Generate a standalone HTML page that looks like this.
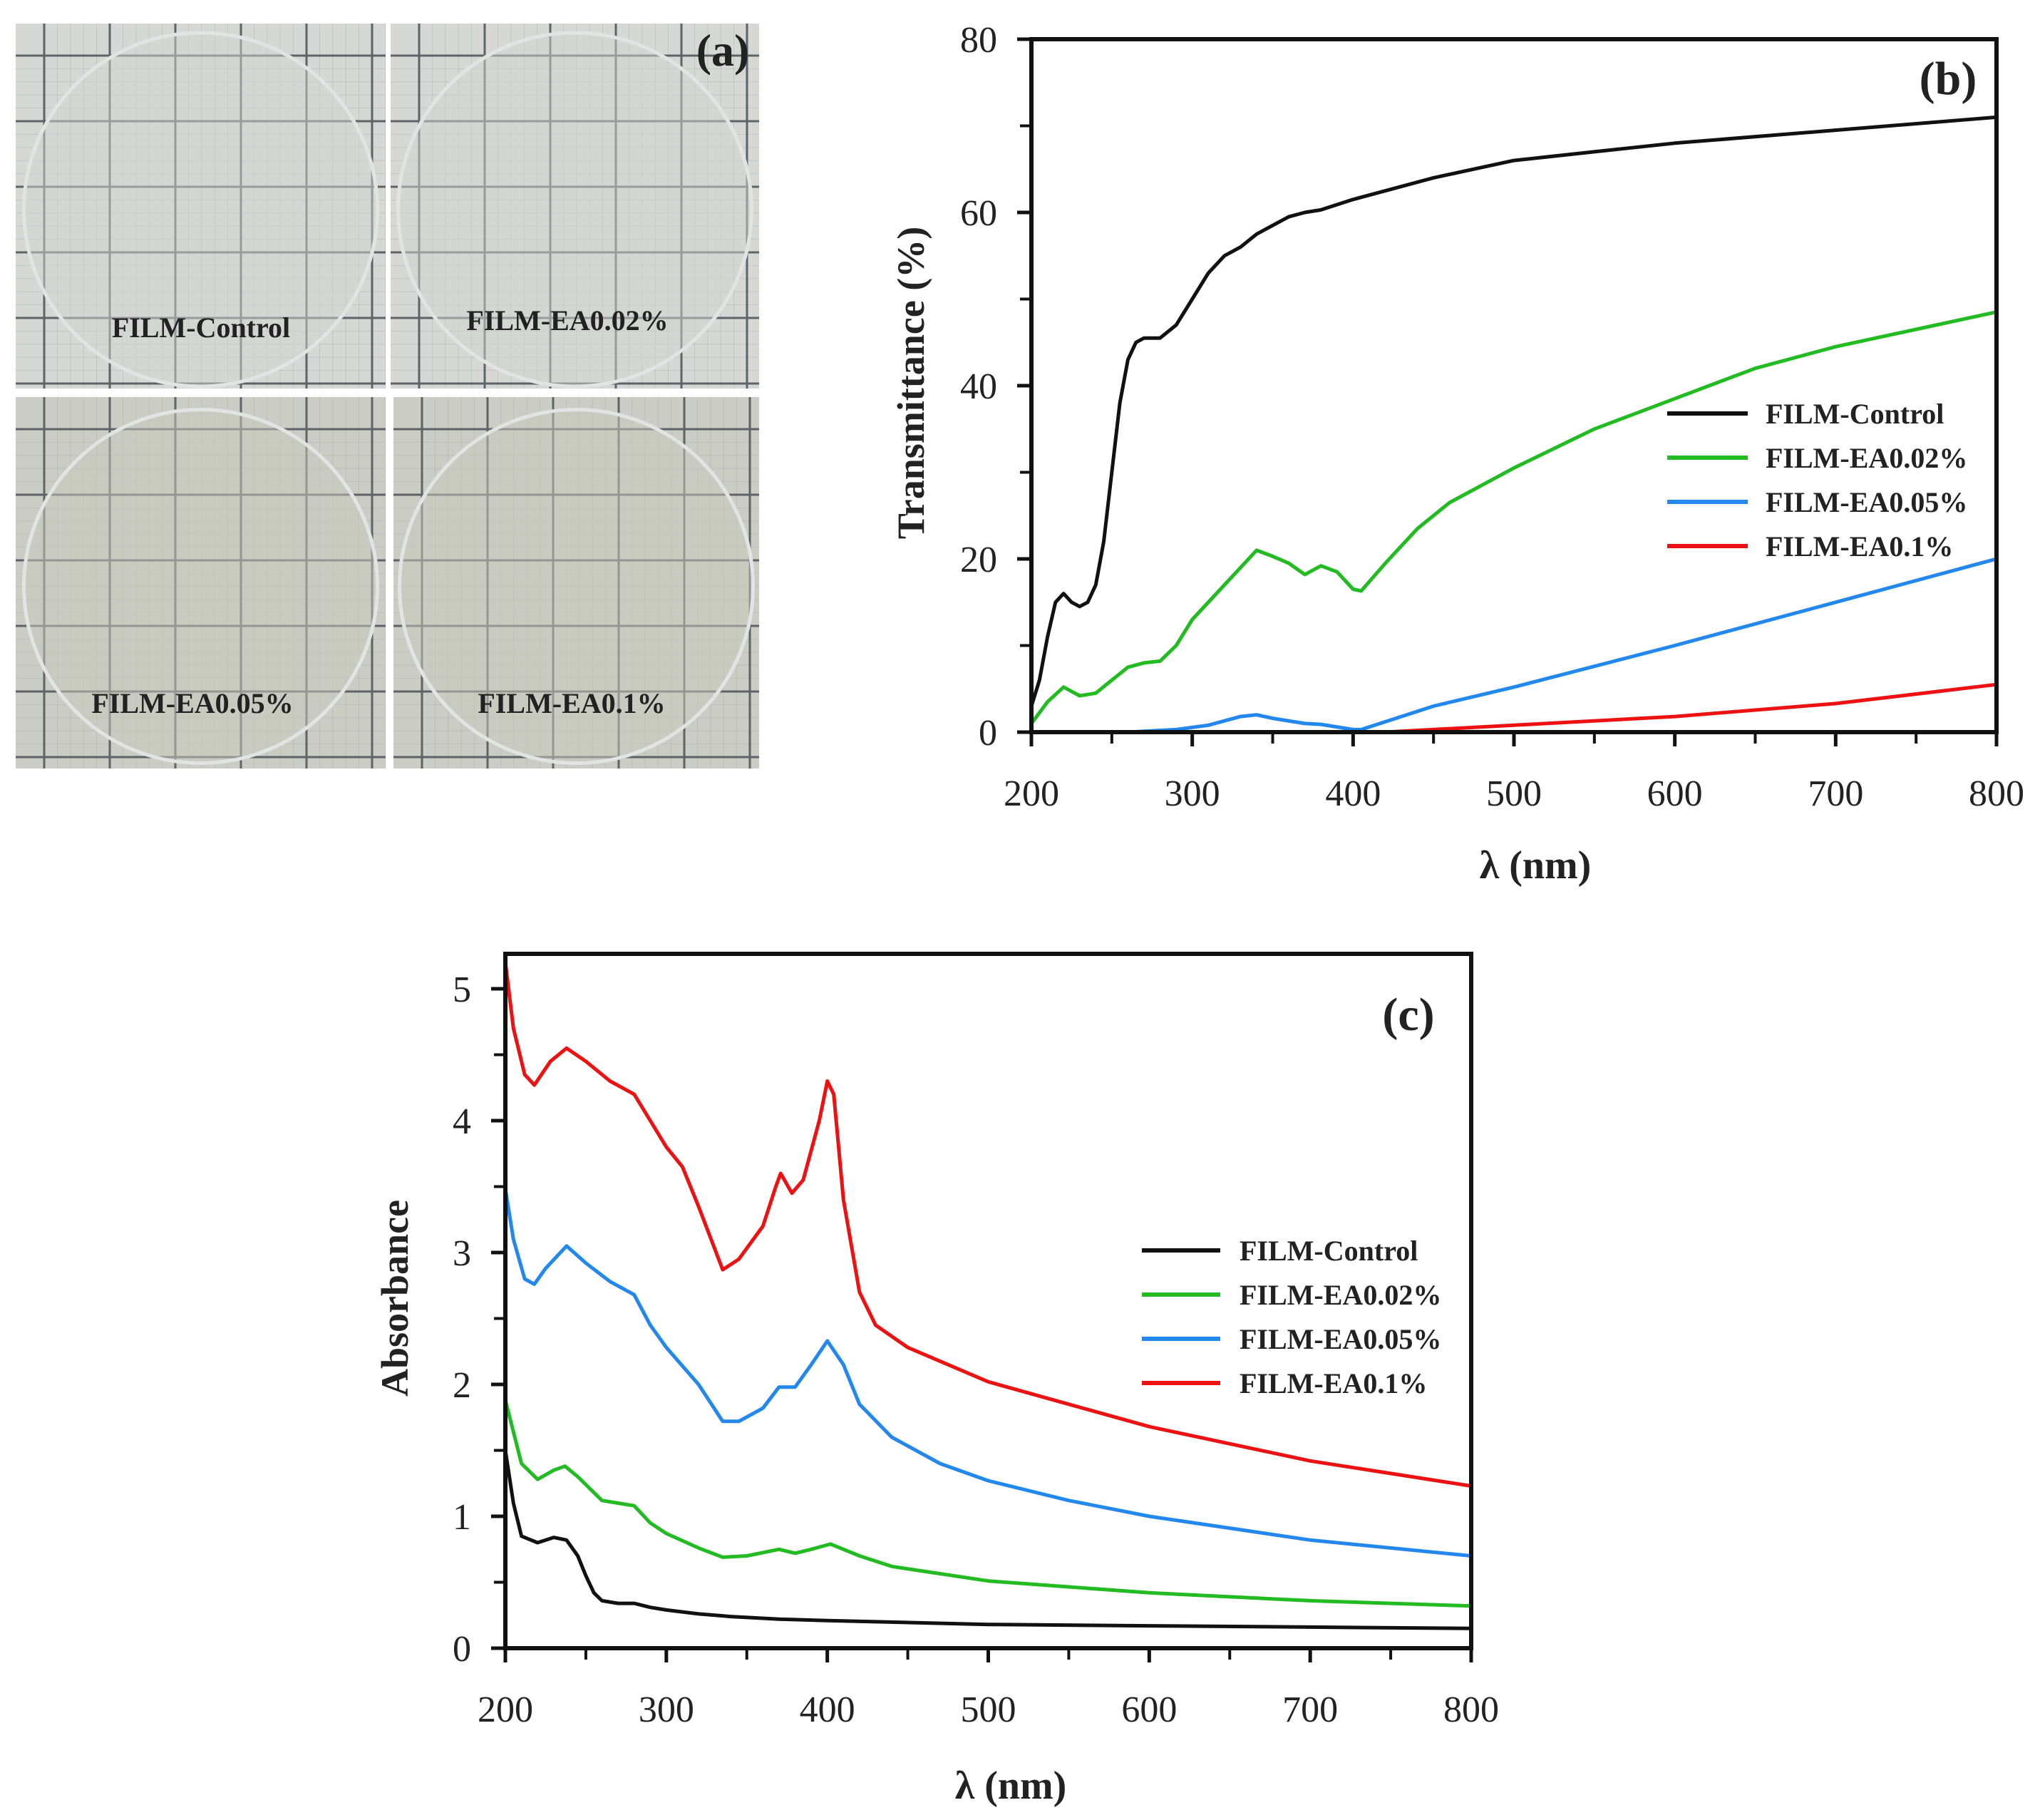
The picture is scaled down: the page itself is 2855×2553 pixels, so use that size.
<!DOCTYPE html>
<html><head><meta charset="utf-8"><style>
html,body{margin:0;padding:0;background:#fff;}
svg{display:block;}
text{font-family:"Liberation Serif",serif;fill:#222;}
</style></head><body>
<svg id="fig" width="2855" height="2553" viewBox="0 0 2855 2553" xmlns="http://www.w3.org/2000/svg">
<g id="panelA"></g>
<g id="panelB"></g>
<g id="panelC"></g>
</svg>
<script>
// ---- Transmittance data (panel b) ----
const tControlX=[200,205,210,215,220,225,230,235,240,245,250,255,260,265,270,280,290,300,310,320,330,340,350,360,370,380,400,450,500,550,600,700,800];
const tControlY=[3,6,11,15,16,15,14.5,15,17,22,30,38,43,45,45.5,45.5,47,50,53,55,56,57.5,58.5,59.5,60,60.3,61.5,64,66,67,68,69.5,71];
const t002X=[200,210,220,230,240,250,260,270,280,290,300,320,340,350,360,370,380,390,400,405,420,440,460,500,550,600,650,700,750,800];
const t002Y=[1,3.5,5.2,4.2,4.5,6,7.5,8,8.2,10,13,17,21,20.3,19.5,18.2,19.2,18.5,16.5,16.3,19.5,23.5,26.5,30.5,35,38.5,42,44.5,46.5,48.5];
const t005X=[200,260,290,310,330,340,350,370,380,400,405,450,500,600,700,800];
const t005Y=[0,0,0.3,0.8,1.8,2,1.6,1,0.9,0.3,0.3,3,5.2,10,15,20];
const t01X=[200,420,500,600,700,800];
const t01Y=[0,0,0.8,1.8,3.3,5.5];
const tYTicks=[0,20,40,60,80];
const xTicks=[200,300,400,500,600,700,800];
// ---- Absorbance data (panel c) ----
const aControlX=[200,205,210,220,230,238,245,250,255,260,270,280,290,300,320,340,370,400,500,600,700,800];
const aControlY=[1.5,1.1,0.85,0.8,0.84,0.82,0.7,0.55,0.42,0.36,0.34,0.34,0.31,0.29,0.26,0.24,0.22,0.21,0.18,0.17,0.16,0.15];
const a002X=[200,210,220,230,237,245,260,270,280,290,300,320,335,350,370,380,390,402,420,440,500,600,700,800];
const a002Y=[1.88,1.4,1.28,1.35,1.38,1.3,1.12,1.1,1.08,0.95,0.87,0.76,0.69,0.7,0.75,0.72,0.75,0.79,0.7,0.62,0.51,0.42,0.36,0.32];
const a005X=[200,205,212,218,225,238,250,265,280,290,300,320,335,345,360,370,380,390,400,410,420,440,470,500,550,600,700,800];
const a005Y=[3.48,3.1,2.8,2.76,2.88,3.05,2.92,2.78,2.68,2.45,2.28,2.0,1.72,1.72,1.82,1.98,1.98,2.15,2.33,2.15,1.85,1.6,1.4,1.27,1.12,1.0,0.82,0.7];
const a01X=[200,205,212,218,228,238,250,265,280,290,300,310,320,335,345,360,368,371,378,385,395,400,404,410,420,430,450,500,550,600,700,800];
const a01Y=[5.2,4.7,4.35,4.27,4.45,4.55,4.45,4.3,4.2,4.0,3.8,3.65,3.35,2.87,2.95,3.2,3.5,3.6,3.45,3.55,4.0,4.3,4.2,3.4,2.7,2.45,2.28,2.02,1.85,1.68,1.42,1.23];
const aYTicks=[0,1,2,3,4,5];
const legendLabels=["FILM-Control","FILM-EA0.02%","FILM-EA0.05%","FILM-EA0.1%"];
const colors=["#111111","#22bb22","#2288ee","#ee1111"];

const NS="http://www.w3.org/2000/svg";
function mk(tag,attrs,parent){const e=document.createElementNS(NS,tag);for(const k in attrs)e.setAttribute(k,attrs[k]);parent.appendChild(e);return e;}

// ---- panel a photos ----
(function(){
  const g=document.getElementById('panelA');
  const cells=[[22,33,519,512,"FILM-Control",282,473],[548,33,517,512,"FILM-EA0.02%",796,463],[22,557,519,521,"FILM-EA0.05%",270,1000],[552,557,513,521,"FILM-EA0.1%",802,1000]];
  const names=['photo-control','photo-ea002','photo-ea005','photo-ea01'];
  cells.forEach((c,i)=>{
    const cg=mk('g',{},g);
    
    
    mk('rect',{x:c[0],y:c[1],width:c[2],height:c[3],fill:i<2?'#d6d8d6':'#cbccc3'},cg);
    for(let x=c[0]+40;x<c[0]+c[2];x+=18.4)mk('line',{x1:x,y1:c[1],x2:x,y2:c[1]+c[3],stroke:'#a8aaae','stroke-width':0.8,'stroke-opacity':0.5},cg);
    for(let y=c[1]+45;y<c[1]+c[3];y+=18.4)mk('line',{x1:c[0],y1:y,x2:c[0]+c[2],y2:y,stroke:'#a8aaae','stroke-width':0.8,'stroke-opacity':0.5},cg);
    for(let x=c[0]+40;x<c[0]+c[2];x+=92)mk('line',{x1:x,y1:c[1],x2:x,y2:c[1]+c[3],stroke:'#5f6266','stroke-width':3},cg);
    for(let y=c[1]+45;y<c[1]+c[3];y+=92)mk('line',{x1:c[0],y1:y,x2:c[0]+c[2],y2:y,stroke:'#5f6266','stroke-width':3},cg);
    const cx=c[0]+c[2]/2,cy=c[1]+c[3]/2+5;
    mk('circle',{cx:cx,cy:cy,r:248,fill:i<2?'#d2d4d1':'#c9cabd','fill-opacity':0.5,stroke:'#e2e4e4','stroke-width':5},cg);
    const t=mk('text',{x:c[5],y:c[6],'font-size':40,'font-weight':'bold','text-anchor':'middle'},cg);
    t.textContent=c[4];
    
    
  });
  const la=mk('text',{x:1014,y:92,'font-size':64,'font-weight':'bold','text-anchor':'middle'},g);
  la.textContent='(a)';
  
  
})();

function chart(gid,box,xr,yr,yTicks,yMinorStep,series,opts){
  const g=document.getElementById(gid);
  const sx=v=>box.l+(v-xr[0])/(xr[1]-xr[0])*(box.r-box.l);
  const sy=v=>box.b-(v-yr[0])/(yr[1]-yr[0])*(box.b-box.t);
  series.forEach((s,i)=>{
    const d=s.x.map((x,j)=>(j?'L':'M')+sx(x).toFixed(1)+' '+sy(s.y[j]).toFixed(1)).join(' ');
    const p=mk('path',{d:d,fill:'none',stroke:colors[i],'stroke-width':5,'stroke-linejoin':'round'},g);
    
    
  });
  const fr=mk('rect',{x:box.l,y:box.t,width:box.r-box.l,height:box.b-box.t,fill:'none',stroke:'#111','stroke-width':6},g);
  
  
  xTicks.forEach(v=>{
    mk('line',{x1:sx(v),y1:box.b,x2:sx(v),y2:box.b+20,stroke:'#111','stroke-width':5},g);
    const t=mk('text',{x:sx(v),y:opts.xLabY,'font-size':52,'text-anchor':'middle'},g);
    t.textContent=v;
    
    
  });
  for(let i=0;i<xTicks.length-1;i++){const v=(xTicks[i]+xTicks[i+1])/2;mk('line',{x1:sx(v),y1:box.b,x2:sx(v),y2:box.b+16,stroke:'#111','stroke-width':4},g);}
  yTicks.forEach(v=>{
    mk('line',{x1:box.l-20,y1:sy(v),x2:box.l,y2:sy(v),stroke:'#111','stroke-width':5},g);
    const t=mk('text',{x:box.l-48,y:sy(v)+18,'font-size':52,'text-anchor':'end'},g);
    t.textContent=v;
    
    
  });
  for(let i=0;i<yTicks.length-1;i++){const v=yTicks[i]+yMinorStep;mk('line',{x1:box.l-16,y1:sy(v),x2:box.l,y2:sy(v),stroke:'#111','stroke-width':4},g);}
  const xt=mk('text',{x:opts.xTitle[0],y:opts.xTitle[1],'font-size':56,'font-weight':'bold','text-anchor':'middle'},g);
  xt.textContent='λ (nm)';
  
  
  const yt=mk('text',{x:0,y:0,'font-size':54,'font-weight':'bold','text-anchor':'middle',transform:`translate(${opts.yTitle[0]},${opts.yTitle[1]}) rotate(-90)`},g);
  yt.textContent=opts.yTitleText;
  
  
  const pl=mk('text',{x:opts.plabel[0],y:opts.plabel[1],'font-size':66,'font-weight':'bold','text-anchor':'middle'},g);
  pl.textContent=opts.plabel[2];
  
  
  const lg=mk('g',{},g);
  
  
  legendLabels.forEach((lab,i)=>{
    const y=opts.leg.y0+i*opts.leg.dy;
    const e=mk('g',{},lg);
    
    
    mk('line',{x1:opts.leg.x1,y1:y,x2:opts.leg.x2,y2:y,stroke:colors[i],'stroke-width':6},e);
    const t=mk('text',{x:opts.leg.tx,y:y+14,'font-size':40,'font-weight':'bold'},e);
    t.textContent=lab;
  });
}

chart('panelB',{l:1447,r:2801,t:55,b:1027},[200,800],[0,80],tYTicks,10,
  [{x:tControlX,y:tControlY},{x:t002X,y:t002Y},{x:t005X,y:t005Y},{x:t01X,y:t01Y}],
  {xLabY:1130,xTitle:[2154,1232],yTitle:[1296,537],yTitleText:'Transmittance (%)',plabel:[2733,132,'(b)'],
   leg:{x1:2339,x2:2452,tx:2477,y0:580,dy:62}});
chart('panelC',{l:709,r:2064,t:1338,b:2312},[200,800],[0,5.265],aYTicks,0.5,
  [{x:aControlX,y:aControlY},{x:a002X,y:a002Y},{x:a005X,y:a005Y},{x:a01X,y:a01Y}],
  {xLabY:2415,xTitle:[1418,2523],yTitle:[572,1821],yTitleText:'Absorbance',plabel:[1976,1445,'(c)'],
   leg:{x1:1602,x2:1712,tx:1739,y0:1754,dy:62}});
</script>
</body></html>
